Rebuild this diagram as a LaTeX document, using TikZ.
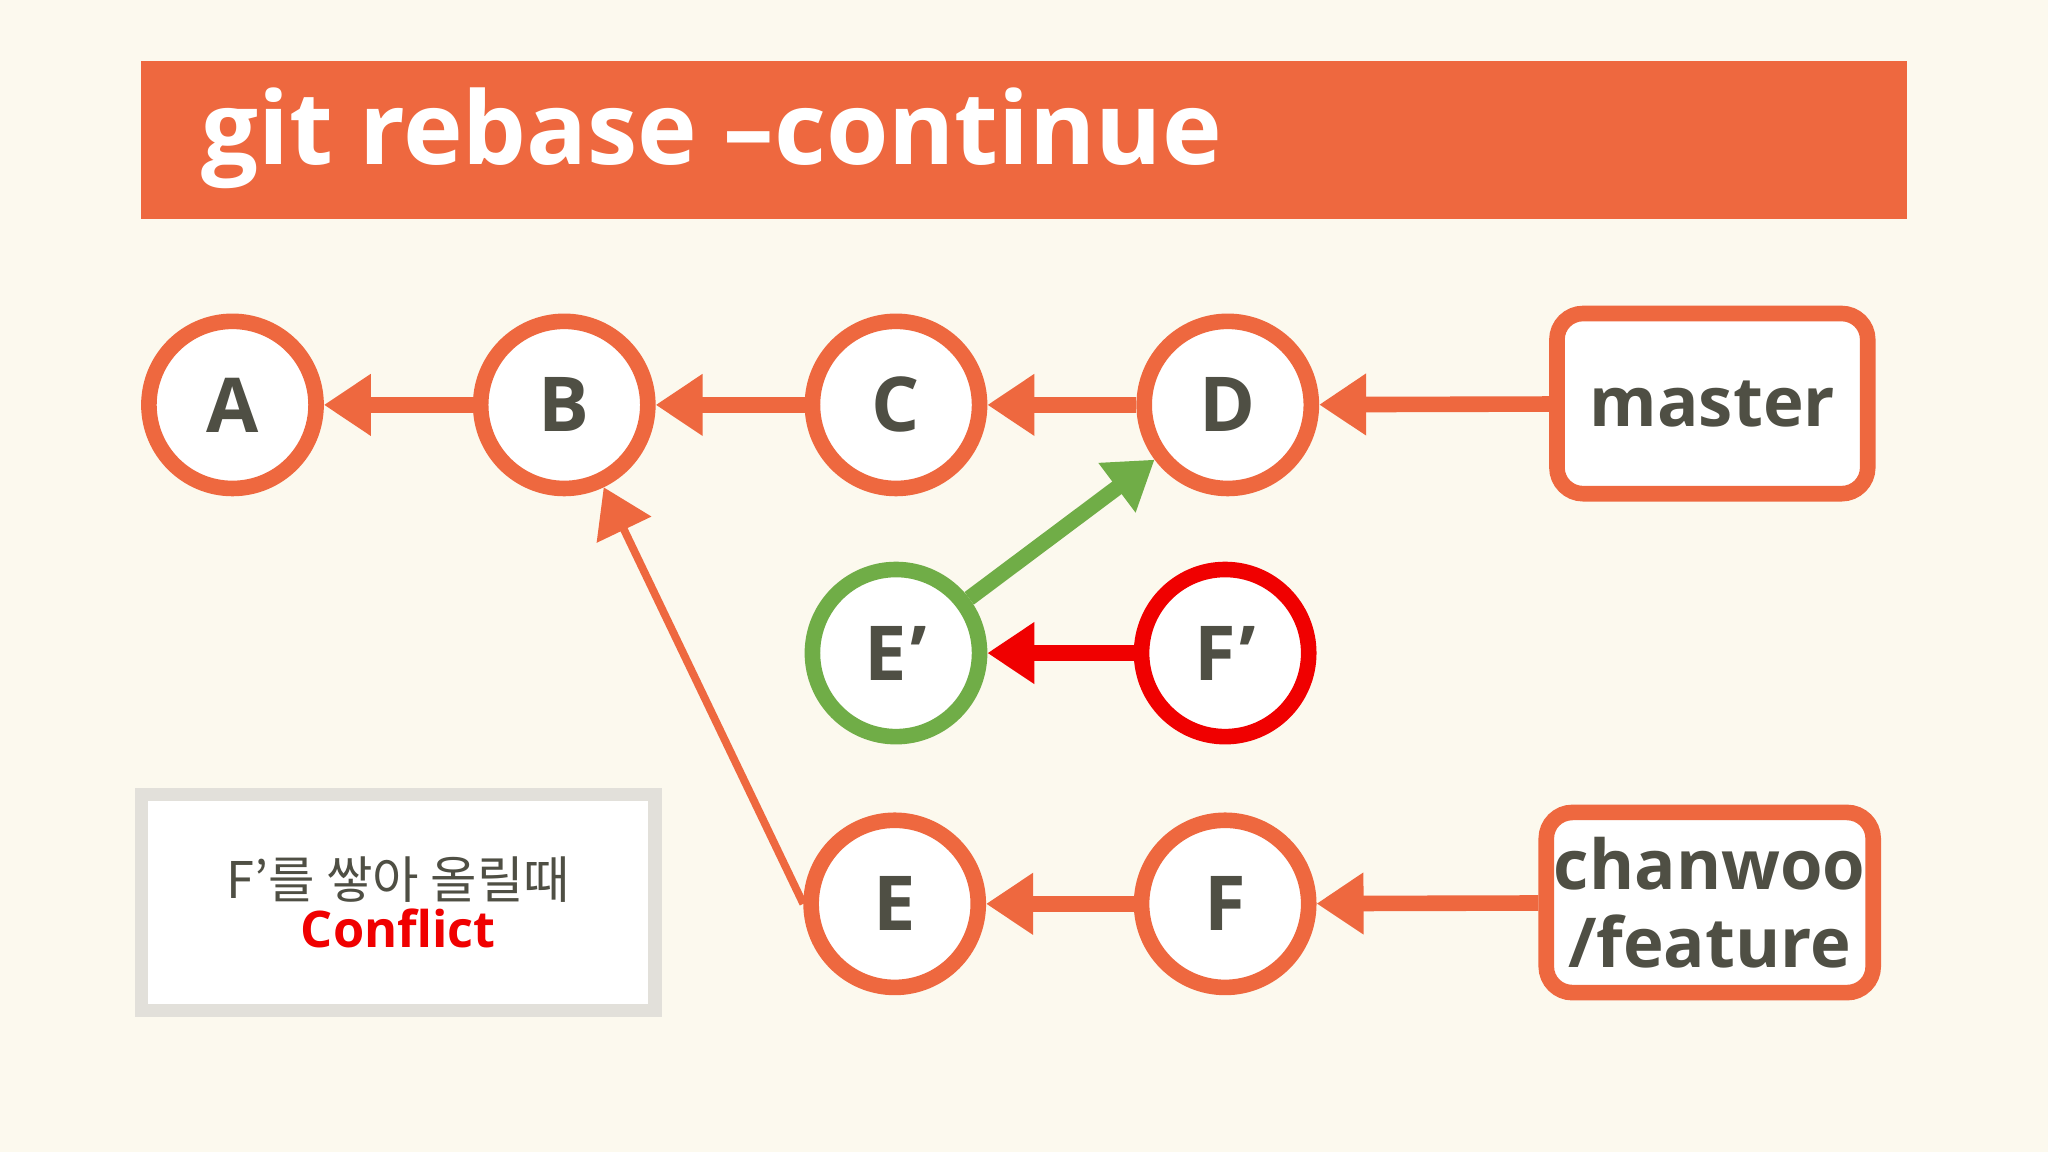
\documentclass[tikz,border=0pt]{standalone}
\usepackage{fontspec}
\setmainfont{Open Sans}
\newfontfamily\kr{Noto Sans CJK KR}
\usetikzlibrary{arrows.meta}
\definecolor{bg}{HTML}{FCF9EE}
\definecolor{org}{HTML}{EE683F}
\definecolor{txt}{HTML}{4F4F44}
\definecolor{grn}{HTML}{70AD47}
\definecolor{rd}{HTML}{F00000}
\definecolor{gbox}{HTML}{E2E0DA}
\begin{document}
\begin{tikzpicture}[x=0.02cm,y=-0.02cm,
  commit/.style={circle,draw=org,line width=6.8pt,fill=white,minimum size=2.56cm,inner sep=0pt,font=\bfseries\fontsize{33}{36}\selectfont,text=txt},
  ref/.style={rectangle,rounded corners=0.4cm,draw=org,line width=6.8pt,fill=white,minimum width=4.76cm,minimum height=2.76cm,font=\bfseries\fontsize{30}{34}\selectfont,text=txt,align=center},
  conn/.style={line width=6.8pt,org,-{Triangle[length=0.72cm,width=0.9cm]}}]
\fill[bg] (0,0) rectangle (1568,882);
\useasboundingbox (0,0) rectangle (1568,882);
\fill[org] (108,47) rectangle (1460,168);
\node[anchor=west,text=white,font=\bfseries\fontsize{44}{48}\selectfont] (title) at (148,106) {git rebase --continue};
\node[commit] (A) at (178,310) {A};
\node[commit] (B) at (432,310) {B};
\node[commit] (C) at (686,310) {C};
\node[commit] (D) at (940,310) {D};
\node[commit,draw=grn] (Ep) at (686,500) {E\kern0.05em\raisebox{0pt}{’}};
\node[commit,draw=rd] (Fp) at (938,500) {F\kern0.05em’};
\node[commit] (E) at (685,692) {E};
\node[commit] (F) at (938,692) {F};
\node[ref] (master) at (1311,309) {master};
\node[ref] (feat) at (1309,691) {chanwoo\\/feature};
\node[rectangle,draw=gbox,line width=5.7pt,fill=white,minimum width=7.86cm,minimum height=3.3cm,align=center,text=txt] (note) at (305,691)
  {{\kr\fontsize{22}{26}\selectfont F’를 쌓아 올릴때}\\[2pt]{\color{rd}\bfseries\fontsize{22}{26}\selectfont Conflict}};
\draw[conn] (B) -- (A);
\draw[conn] (C) -- (B);
\draw[conn] (D) -- (C);
\draw[conn] (master) -- (D);
\draw[conn,grn] (Ep) -- (D);
\draw[conn,rd] (Fp) -- (Ep);
\draw[conn] (F) -- (E);
\draw[conn] (feat) -- (F);
\draw[org,line width=3.4pt,-{Triangle[length=0.72cm,width=0.9cm]}] (E.west) -- (B);
\end{tikzpicture}
\end{document}
